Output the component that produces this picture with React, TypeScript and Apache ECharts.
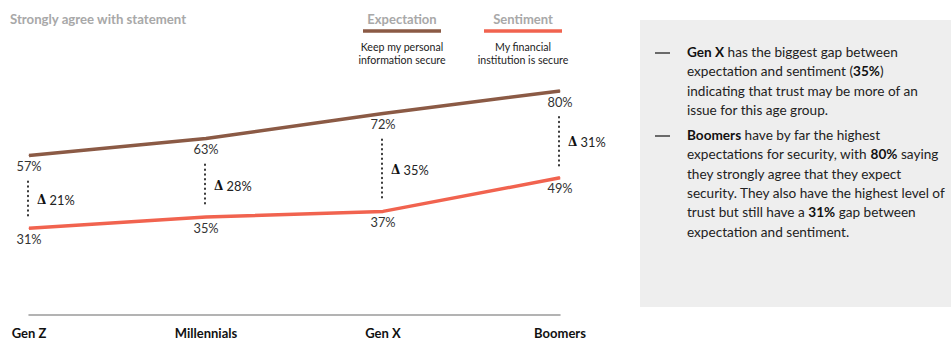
import React, { useEffect, useRef } from "react";
import * as echarts from "echarts";

// Survey data: share of each generation that strongly agrees
const categories = ["Gen Z", "Millennials", "Gen X", "Boomers"];
const expectation = [57, 63, 72, 80]; // Keep my personal information secure
const sentiment = [31, 35, 37, 49]; // My financial institution is secure
const gapLabels = [21, 28, 35, 31]; // stated gap between the two lines

const EXP_COLOR = "#8B5A45";
const SENT_COLOR = "#F1634F";
const FONT = "Lato, 'Open Sans', sans-serif";

const noteBullets: string[][] = [
  [
    "{b|Gen X} has the biggest gap between",
    "expectation and sentiment ({b|35%})",
    "indicating that trust may be more of an",
    "issue for this age group.",
  ],
  [
    "{b|Boomers} have by far the highest",
    "expectations for security, with {b|80%} saying",
    "they strongly agree that they expect",
    "security. They also have the highest level of",
    "trust but still have a {b|31%} gap between",
    "expectation and sentiment.",
  ],
];

export default function App() {
  const ref = useRef<HTMLDivElement>(null);

  useEffect(() => {
    if (!ref.current) return;
    const chart = echarts.init(ref.current, undefined, { renderer: "svg" });

    const gapData = categories.map((_, i) => [i, expectation[i], sentiment[i], gapLabels[i]]);

    // Side panel with commentary
    const notes: any[] = [
      {
        type: "rect",
        shape: { x: 640, y: 20, width: 311, height: 287 },
        style: { fill: "#EEEEEE" },
        silent: true,
      },
    ];
    const lineH = 19.3;
    const starts = [52, 135];
    noteBullets.forEach((lines, bi) => {
      notes.push({
        type: "line",
        shape: { x1: 655, y1: starts[bi] + 1, x2: 670, y2: starts[bi] + 1 },
        style: { stroke: "#222", lineWidth: 1.3 },
      });
      lines.forEach((ln, li) => {
        notes.push({
          type: "text",
          x: 687,
          y: starts[bi] + li * lineH,
          style: {
            text: ln,
            fontFamily: FONT,
            fontSize: 13.6,
            fill: "#222",
            verticalAlign: "middle",
            rich: {
              b: { fontFamily: FONT, fontSize: 13.6, fontWeight: "bold", fill: "#111" },
            },
          },
        });
      });
    });

    // Legend entries
    const legend = (cx: number, title: string, color: string, sub: string[]) => [
      {
        type: "text",
        x: cx,
        y: 19,
        style: {
          text: title,
          font: `bold 13px ${FONT}`,
          fill: "#A8A8A8",
          align: "center",
          verticalAlign: "middle",
        },
      },
      {
        type: "line",
        shape: { x1: cx - 39, y1: 31, x2: cx + 39, y2: 31 },
        style: { stroke: color, lineWidth: 3.5 },
      },
      ...sub.map((s, i) => ({
        type: "text",
        x: cx,
        y: 47 + i * 13,
        style: {
          text: s,
          font: `10.6px ${FONT}`,
          fill: "#222",
          align: "center",
          verticalAlign: "middle",
        },
      })),
    ];

    chart.setOption({
      animation: false,
      backgroundColor: "#ffffff",
      grid: { left: 29, right: 391, top: 35, bottom: 23, containLabel: false },
      xAxis: {
        type: "category",
        data: categories,
        boundaryGap: false,
        axisLine: { show: true, lineStyle: { color: "#9A9A9A", width: 1.5 } },
        axisTick: { show: false },
        axisLabel: {
          color: "#111",
          fontFamily: FONT,
          fontWeight: "bold",
          fontSize: 13,
          margin: 11,
        },
        splitLine: { show: false },
      },
      yAxis: {
        type: "value",
        min: 0,
        max: 100,
        show: false,
        splitLine: { show: false },
      },
      series: [
        {
          name: "Expectation",
          type: "line",
          data: expectation,
          symbol: "circle",
          symbolSize: 1,
          itemStyle: { color: EXP_COLOR },
          lineStyle: { color: EXP_COLOR, width: 3.5 },
          label: {
            show: true,
            position: "bottom",
            distance: 3.5,
            formatter: "{c}%",
            color: "#333",
            fontFamily: FONT,
            fontSize: 12.8,
          },
          z: 3,
        },
        {
          name: "Sentiment",
          type: "line",
          data: sentiment,
          symbol: "circle",
          symbolSize: 1,
          itemStyle: { color: SENT_COLOR },
          lineStyle: { color: SENT_COLOR, width: 3.5 },
          label: {
            show: true,
            position: "bottom",
            distance: 3.5,
            formatter: "{c}%",
            color: "#333",
            fontFamily: FONT,
            fontSize: 12.8,
          },
          z: 3,
        },
        {
          name: "Gap",
          type: "custom",
          data: gapData,
          silent: true,
          renderItem: (params: any, api: any) => {
            const i = api.value(0);
            const top = api.coord([i, api.value(1)]);
            const bot = api.coord([i, api.value(2)]);
            const x = top[0] - 1;
            const y1 = top[1] + 26;
            const y2 = bot[1] - 10;
            return {
              type: "group",
              children: [
                {
                  type: "line",
                  shape: { x1: x, y1, x2: x, y2 },
                  style: {
                    stroke: "#333",
                    lineWidth: 2,
                    lineDash: [0.5, 4.3],
                    lineCap: "round",
                  },
                },
                {
                  type: "text",
                  x: x + 9,
                  y: (y1 + y2) / 2,
                  style: {
                    text: `{d|Δ} ${api.value(3)}%`,
                    fontFamily: FONT,
                    fontSize: 12.8,
                    fill: "#222",
                    verticalAlign: "middle",
                    rich: {
                      d: {
                        fontFamily: "'DejaVu Serif', serif",
                        fontWeight: "bold",
                        fontSize: 12,
                        fill: "#111",
                      },
                    },
                  },
                },
              ],
            };
          },
          z: 2,
        },
      ],
      graphic: [
        {
          type: "text",
          x: 10,
          y: 19,
          style: {
            text: "Strongly agree with statement",
            font: `bold 13.2px ${FONT}`,
            fill: "#A8A8A8",
            verticalAlign: "middle",
          },
        },
        ...legend(402, "Expectation", EXP_COLOR, ["Keep my personal", "information secure"]),
        ...legend(523, "Sentiment", SENT_COLOR, ["My financial", "institution is secure"]),
        ...notes,
      ],
    });

    return () => chart.dispose();
  }, []);

  return (
    <div
      ref={ref}
      style={{ position: "fixed", left: 0, top: 0, width: 951, height: 339, background: "#fff" }}
    />
  );
}
